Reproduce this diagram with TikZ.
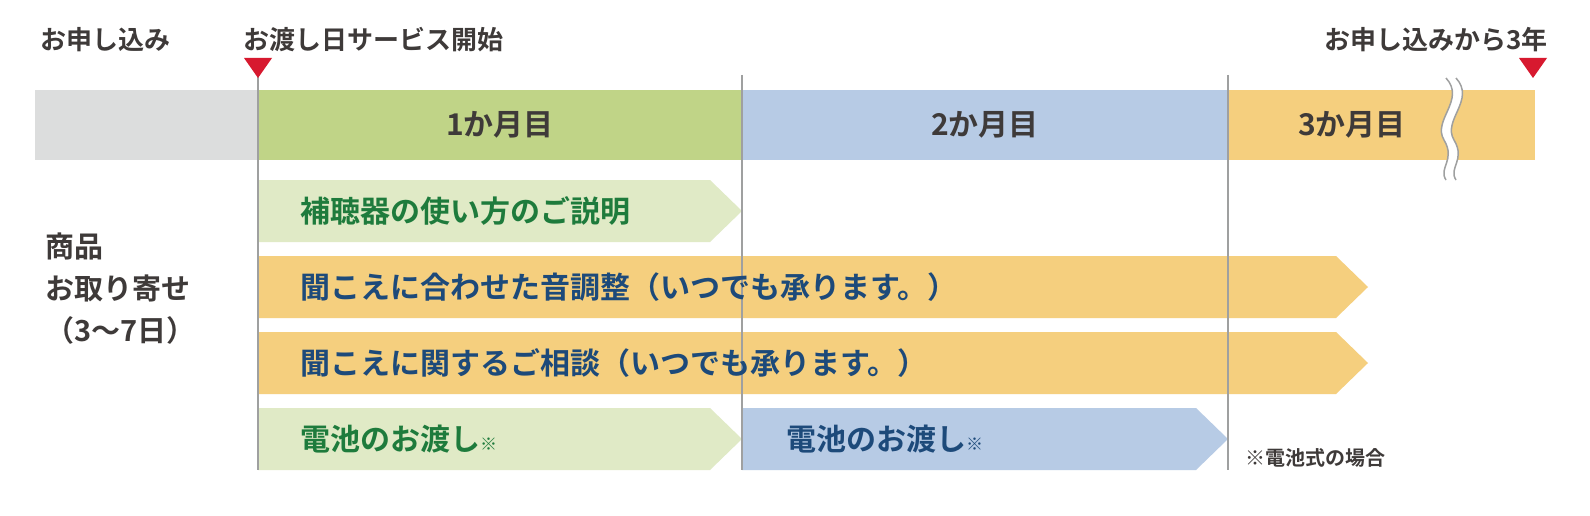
\documentclass[tikz,border=0pt]{standalone}
\usepackage{fontspec}
\setmainfont{Noto Sans CJK JP}[BoldFont={Noto Sans CJK JP Bold}]
\definecolor{cgray}{HTML}{DCDDDD}
\definecolor{cgreen}{HTML}{C0D487}
\definecolor{cblue}{HTML}{B7CBE5}
\definecolor{corange}{HTML}{F5CF7E}
\definecolor{clgreen}{HTML}{E0EAC6}
\definecolor{tgreen}{HTML}{1E7B3C}
\definecolor{tblue}{HTML}{1D4A7A}
\definecolor{tdark}{HTML}{3E3A39}
\definecolor{cred}{HTML}{D7192F}
\definecolor{cline}{HTML}{9FA0A0}
\begin{document}
\begin{tikzpicture}[x=1pt,y=-1pt,
  lbl/.style={font=\bfseries\fontsize{26}{30}\selectfont,text=tdark,inner sep=0},
  bar/.style={font=\bfseries\fontsize{30}{34}\selectfont,text=tdark,inner sep=0},
  atext/.style={font=\bfseries\fontsize{30}{34}\selectfont,anchor=west,inner sep=0},
  tri/.style={fill=cred}]
\fill[white] (0,0) rectangle (1590,516);
% bars
\fill[cgray] (35,90) rectangle (258,160);
\fill[cgreen] (258,90) rectangle (742,160);
\fill[cblue] (742,90) rectangle (1228,160);
\fill[corange] (1228,90) rectangle (1535,160);
\node[bar] (m1) at (500,125) {1か月目};
\node[bar] (m2) at (985,125) {2か月目};
\node[bar] (m3) at (1352,125) {3か月目};
% break
\fill[white] (1446,78) .. controls (1466,100) and (1432,120) .. (1444,140) .. controls (1456,160) and (1438,168) .. (1446,180)
  -- (1456,180) .. controls (1448,168) and (1466,160) .. (1454,140) .. controls (1442,120) and (1476,100) .. (1456,78) -- cycle;
\draw[cline,line width=1.5pt] (1446,78) .. controls (1466,100) and (1432,120) .. (1444,140) .. controls (1456,160) and (1438,168) .. (1446,180);
\draw[cline,line width=1.5pt] (1456,78) .. controls (1476,100) and (1442,120) .. (1454,140) .. controls (1466,160) and (1448,168) .. (1456,180);
% arrows
\fill[clgreen] (258,180) -- (710,180) -- (742,211) -- (710,242) -- (258,242) -- cycle;
\fill[corange] (258,256) -- (1336,256) -- (1368,287) -- (1336,318) -- (258,318) -- cycle;
\fill[corange] (258,332) -- (1336,332) -- (1368,363) -- (1336,394) -- (258,394) -- cycle;
\fill[clgreen] (258,408) -- (710,408) -- (742,439) -- (710,470) -- (258,470) -- cycle;
\fill[cblue] (742,408) -- (1196,408) -- (1228,439) -- (1196,470) -- (742,470) -- cycle;
% vertical lines
\foreach \x in {258,742,1228} \draw[cline,line width=1.5pt] (\x,75) -- (\x,470);
% triangles
\fill[tri] (244,58) -- (272,58) -- (258,78) -- cycle;
\fill[tri] (1519,58) -- (1547,58) -- (1533,78) -- cycle;
% labels
\node[lbl,anchor=west] (t1) at (40,40) {お申し込み};
\node[lbl,anchor=west] (t2) at (243,40) {お渡し日サービス開始};
\node[lbl,anchor=east] (t3) at (1548,40) {お申し込みから3年};
\node[atext,text=tgreen] (a1) at (300,211) {補聴器の使い方のご説明};
\node[atext,text=tblue] (a2) at (300,287) {聞こえに合わせた音調整（いつでも承ります。）};
\node[atext,text=tblue] (a3) at (300,363) {聞こえに関するご相談（いつでも承ります。）};
\node[atext,text=tgreen] (a4) at (300,439) {電池のお渡し{\fontsize{17}{18}\selectfont ※}};
\node[atext,text=tblue] (a5) at (786,439) {電池のお渡し{\fontsize{17}{18}\selectfont ※}};
\node[font=\bfseries\fontsize{20}{22}\selectfont,anchor=west,inner sep=0,text=tdark] (nt) at (1245,458) {※電池式の場合};
\node[font=\bfseries\fontsize{29}{42}\selectfont,anchor=west,align=left,inner sep=0,text=tdark] (lf) at (45,289) {商品\\お取り寄せ\\（3〜7日）};
\pgfresetboundingbox
\path[use as bounding box] (0,0) rectangle (1590,516);
\end{tikzpicture}
\end{document}
